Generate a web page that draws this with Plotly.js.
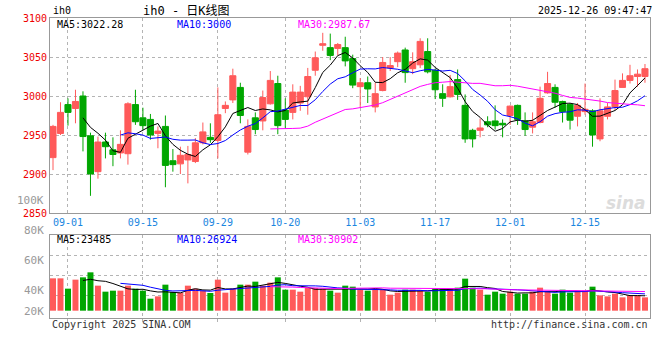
<!DOCTYPE html>
<html><head><meta charset="utf-8">
<script src="https://cdn.plot.ly/plotly-3.0.1.min.js"></script>
<style>html,body{margin:0;padding:0;background:#fff}#c{width:660px;height:360px}</style>
</head><body><div id="c"></div>
<script>
const dates = ['08-28','08-29','09-01','09-02','09-03','09-04','09-05','09-08','09-09','09-10','09-11','09-12','09-15','09-16','09-17','09-18','09-19','09-22','09-23','09-24','09-25','09-26','09-29','09-30','10-09','10-10','10-13','10-14','10-15','10-16','10-17','10-20','10-21','10-22','10-23','10-24','10-27','10-28','10-29','10-30','10-31','11-03','11-04','11-05','11-06','11-07','11-10','11-11','11-12','11-13','11-14','11-17','11-18','11-19','11-20','11-21','11-24','11-25','11-26','11-27','11-28','12-01','12-02','12-03','12-04','12-05','12-08','12-09','12-10','12-11','12-12','12-15','12-16','12-17','12-18','12-19','12-22','12-23','12-24','12-25'];
const open  = [2921,2952,2989,2984,3000,2949,2903,2941,2931,2927,2926,2989,2972,2970,2952,2961,2917,2913,2918,2916,2940,2947,2943,2984,2995,3011,2928,2972,2968,2990,3016,2982,2979,2991,2999,3033,3065,3062,3061,3062,3048,3012,3017,2986,3007,3036,3044,3059,3035,3040,3057,3033,3003,2999,3021,2988,2956,2956,2967,2968,2965,2975,2988,2968,2960,2966,3004,3011,2993,2989,2974,2980,2981,2945,2974,2986,3011,3020,3025,3025];
const high  = [2963,2992,2997,3008,3006,2953,2948,2953,2947,2956,2992,3008,2985,2977,2961,2975,2932,2935,2936,2946,2966,2965,3011,2993,3035,3017,2970,2979,3007,3032,3026,2997,3015,3013,3036,3057,3081,3080,3068,3076,3053,3023,3025,3017,3050,3050,3057,3062,3056,3074,3074,3035,3015,3027,3034,3002,2958,2971,2974,2988,2970,2988,2989,2979,2979,3012,3031,3015,2994,2991,2991,3016,2983,2997,2991,3021,3029,3040,3034,3041];
const low   = [2905,2950,2962,2965,2929,2872,2894,2920,2910,2920,2912,2963,2956,2944,2933,2883,2903,2900,2888,2914,2938,2940,2920,2978,2991,2965,2925,2951,2956,2989,2951,2959,2970,2981,2976,3026,3058,3046,3052,3038,3010,2985,2991,2979,3006,3032,3037,3017,3028,3036,3029,2996,2986,2998,2995,2940,2934,2947,2960,2957,2947,2963,2963,2949,2952,2965,3003,2985,2966,2957,2961,2976,2935,2942,2970,2982,3011,3016,3012,3017];
const close = [2961,2979,2979,2993,2948,2900,2941,2935,2925,2938,2990,2967,2962,2950,2955,2911,2912,2924,2925,2940,2954,2944,2976,2988,3026,2975,2961,2957,2998,3020,2962,2970,3005,3005,3025,3049,3067,3052,3066,3045,3014,3017,3009,3003,3043,3039,3055,3030,3044,3070,3031,3008,2997,3012,3002,2945,2945,2959,2963,2962,2963,2987,2970,2957,2967,2997,3016,2992,2980,2969,2988,2983,2950,2981,2986,3007,3020,3026,3028,3035];
const volume = [51700,51700,35200,49600,53300,61300,40000,30400,32000,32000,40000,35200,32000,19200,22900,41600,29900,28800,40000,35200,32000,28300,49600,28800,35200,41600,41600,46400,40000,44800,53300,33600,33600,30400,36300,36300,35200,32000,28800,40000,38400,33600,32000,33600,33600,25600,28800,33600,33600,32000,30400,35200,35200,35200,36800,51200,36800,33600,25600,30400,27200,30400,27200,27200,30400,36800,30400,27200,33600,28800,32000,32000,38400,24500,22900,27200,21300,24500,24500,21300];
const xTickLabels = ['09-01','09-15','09-29','10-20','11-03','11-17','12-01','12-15'];
const priceTicks = [2850,2900,2950,3000,3050,3100];
const volTickLabels = ['100K','80K','60K','40K','20K'];
const priceMaLabels = ['MA5:3022.28','MA10:3000','MA30:2987.67'];
const volMaLabels = ['MA5:23485','MA10:26924','MA30:30902'];

const RED='#ff5a5a', GREEN='#00a600';
const MA_COLORS=['#000000','#0000ff','#ff00ff'];
const MONO='DejaVu Sans Mono';
const xIdx = dates.map((d,i)=>i);
function ma(arr,n){return arr.map((v,i)=> i<n-1?null: arr.slice(i-n+1,i+1).reduce((a,b)=>a+b,0)/n);}
const volColors = close.map((c,i)=> c>=open[i]?RED:GREEN);
const tickvals = xTickLabels.map(l=>dates.indexOf(l));

const traces = [
  {type:'candlestick', x:xIdx, open:open, high:high, low:low, close:close, xaxis:'x', yaxis:'y',
   increasing:{line:{color:RED,width:1}, fillcolor:RED},
   decreasing:{line:{color:GREEN,width:1}, fillcolor:GREEN},
   whiskerwidth:0, hoverinfo:'skip', showlegend:false},
];
[5,10,30].forEach((n,k)=>traces.push({type:'scatter', mode:'lines', x:xIdx, y:ma(close,n), xaxis:'x', yaxis:'y',
  line:{color:MA_COLORS[k], width:1}, hoverinfo:'skip', showlegend:false}));
traces.push({type:'bar', x:xIdx, y:volume, xaxis:'x2', yaxis:'y2', width:0.8,
  marker:{color:volColors, line:{width:0}}, hoverinfo:'skip', showlegend:false});
[5,10,30].forEach((n,k)=>traces.push({type:'scatter', mode:'lines', x:xIdx, y:ma(volume,n), xaxis:'x2', yaxis:'y2',
  line:{color:MA_COLORS[k], width:1}, hoverinfo:'skip', showlegend:false}));

const T=18, B=318, L=50, W=600;
const py = p => (B-p)/(B-T);
const px = p => (p-L)/W;
const ann = [];
function txt(text,x,y,color,size,xanchor,family){ann.push({text:text,xref:'paper',yref:'paper',x:x,y:y,showarrow:false,xanchor:xanchor||'left',yanchor:'middle',font:{family:family||MONO,size:size||10,color:color}});}
txt('ih0', px(51), py(11), '#000', 10);
txt('ih0 - 日K线图', px(141), py(11), '#000', 12, 'left', 'DejaVu Sans Mono, Noto Sans CJK SC');
txt('2025-12-26 09:47:47', px(654), py(11), '#000', 10, 'right');
const legX=[55,175,296];
priceMaLabels.forEach((s,k)=>txt(s, px(legX[k]), py(24), MA_COLORS[k], 10));
volMaLabels.forEach((s,k)=>txt(s, px(legX[k]), py(239), MA_COLORS[k], 10));
const volLabelY=[200,230,260,290,311];
volTickLabels.forEach((s,k)=>txt(s, px(46), py(volLabelY[k]), '#999', 11, 'right'));
txt('Copyright 2025 SINA.COM', px(50), py(324), '#333', 10);
txt('http://finance.sina.com.cn', px(650), py(324), '#333', 10, 'right');
ann.push({text:'<b><i>sina</i></b>', xref:'paper', yref:'paper', x:px(648), y:py(203), xanchor:'right', yanchor:'middle', showarrow:false, font:{family:'DejaVu Sans', size:17, color:'#dcdcdc'}});

const grid = {showgrid:true, gridcolor:'#b4b4b4', griddash:'dot', gridwidth:1, zeroline:false, showline:true, mirror:true, linecolor:'#999', linewidth:1};
const layout = {
  width:660, height:360, margin:{l:L, r:10, t:T, b:42}, paper_bgcolor:'#fff', plot_bgcolor:'#fff',
  showlegend:false, boxgap:0.1, boxgroupgap:0.1, bargap:0.2,
  xaxis: Object.assign({}, grid, {domain:[0,1], anchor:'y', range:[-0.4,79.67], tickvals:tickvals, ticktext:xTickLabels,
     ticks:'', tickfont:{family:MONO, size:10, color:'#1a86e0'}, rangeslider:{visible:false}, fixedrange:true}),
  yaxis: Object.assign({}, grid, {domain:[0.35,1], anchor:'x', range:[2850,3100], tickvals:priceTicks, ticks:'',
     tickfont:{family:MONO, size:10, color:'#ee0000'}}),
  xaxis2: Object.assign({}, grid, {domain:[0,1], anchor:'y2', range:[-0.4,79.67], tickvals:tickvals, showticklabels:false,
     ticks:'outside', ticklen:3, tickcolor:'#b4b4b4', rangeslider:{visible:false}}),
  yaxis2: Object.assign({}, grid, {domain:[0,0.278], anchor:'x2', range:[-11680,121600], tickvals:[24480,56480,88480],
     showticklabels:false, ticks:''}),
  annotations: ann
};
Plotly.newPlot('c', traces, layout, {staticPlot:true});
</script></body></html>
